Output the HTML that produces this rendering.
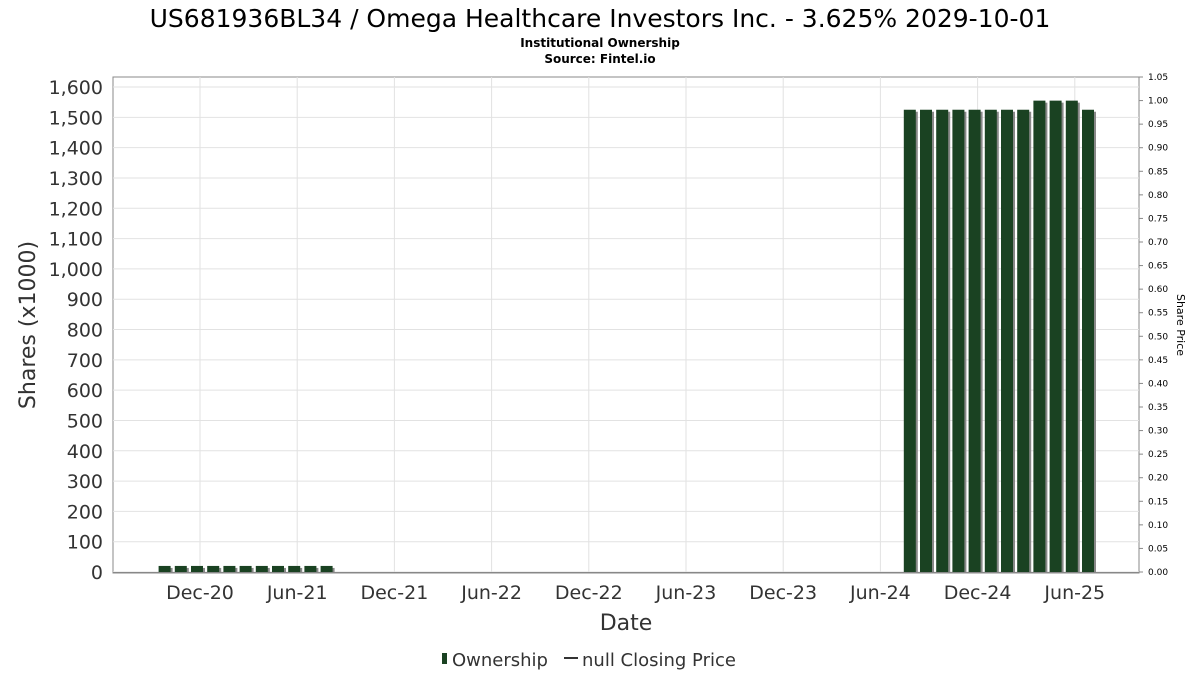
<!DOCTYPE html>
<html><head><meta charset="utf-8"><style>
body{margin:0;background:#fff;font-family:"DejaVu Sans","Liberation Sans",sans-serif}
</style></head><body>
<svg width="1200" height="675" xmlns="http://www.w3.org/2000/svg" id="chart">
<text x="600" y="27" text-anchor="middle" font-size="25" fill="#000">US681936BL34 / Omega Healthcare Investors Inc. - 3.625% 2029-10-01</text>
<text x="600" y="47" text-anchor="middle" font-size="12" font-weight="bold">Institutional Ownership</text>
<text x="600" y="63" text-anchor="middle" font-size="12" font-weight="bold">Source: Fintel.io</text>
<rect x="113" y="77" width="1026" height="496" fill="#fff" stroke="#888"/>
<g id="grid"></g><g id="bars"></g><g id="yticks"></g><g id="xticks"></g>
<text transform="translate(35,325) rotate(-90)" text-anchor="middle" font-size="22" fill="#333">Shares (x1000)</text>
<text transform="translate(1177,325) rotate(90)" text-anchor="middle" font-size="11" fill="#000">Share Price</text>
<text x="626" y="630" text-anchor="middle" font-size="22" fill="#333">Date</text>
<g>
<rect x="442" y="653" width="5" height="11" fill="#1a4222"/>
<text x="452" y="666" font-size="18" fill="#333">Ownership</text>
<line x1="564" y1="658" x2="578" y2="658" stroke="#333" stroke-width="2"/>
<text x="582" y="666" font-size="18" fill="#333">null Closing Price</text>
</g>
</svg>
<script>
const months = ["2020-10","2020-11","2020-12","2021-01","2021-02","2021-03","2021-04","2021-05","2021-06","2021-07","2021-08",
"2024-08","2024-09","2024-10","2024-11","2024-12","2025-01","2025-02","2025-03","2025-04","2025-05","2025-06","2025-07"];
const shares = [20,20,20,20,20,20,20,20,20,20,20,
1525,1525,1525,1525,1525,1525,1525,1525,1555,1555,1555,1525];
const yTicks = [0,100,200,300,400,500,600,700,800,900,1000,1100,1200,1300,1400,1500,1600];
const rTicks = [0,0.05,0.10,0.15,0.20,0.25,0.30,0.35,0.40,0.45,0.50,0.55,0.60,0.65,0.70,0.75,0.80,0.85,0.90,0.95,1.00,1.05];
const xTickLabels = ["Dec-20","Jun-21","Dec-21","Jun-22","Dec-22","Jun-23","Dec-23","Jun-24","Dec-24","Jun-25"];
const xTickMonths = ["2020-12","2021-06","2021-12","2022-06","2022-12","2023-06","2023-12","2024-06","2024-12","2025-06"];
const NS="http://www.w3.org/2000/svg";
function mIdx(s){const [y,m]=s.split("-").map(Number);return (y-2020)*12+(m-12);}
function xs(s){return 200+mIdx(s)*16.2;}
function ys(v){return 572-v*(485/1600);}
function yr(v){return 572-v*(495/1.05);}
function mk(t,a,p){const e=document.createElementNS(NS,t);for(const k in a)e.setAttribute(k,a[k]);p.appendChild(e);return e;}
const grid=document.getElementById("grid"),bars=document.getElementById("bars"),yt=document.getElementById("yticks"),xt=document.getElementById("xticks");
yTicks.forEach(v=>{const y=ys(v);
 const g=mk("line",{x1:113,x2:1139,y1:y,y2:y,stroke:"#e2e2e2"},grid);
 
 
 const t=mk("text",{x:103,y:y+7,"text-anchor":"end","font-size":19,fill:"#333"},yt);t.textContent=v.toLocaleString("en-US");
 
 
});
rTicks.forEach(v=>{const y=yr(v);
 mk("line",{x1:1139,x2:1143,y1:y,y2:y,stroke:"#888"},yt);
 const t=mk("text",{x:1148,y:y+3,"font-size":9,fill:"#000"},yt);t.textContent=v.toFixed(2);
 
 
});
xTickMonths.forEach((m,i)=>{const x=xs(m);
 const g=mk("line",{x1:x,x2:x,y1:77,y2:573,stroke:"#e2e2e2"},grid);
 
 
 const t=mk("text",{x:x,y:599,"text-anchor":"middle","font-size":19,fill:"#333"},xt);t.textContent=xTickLabels[i];
 
 
});
mk("line",{x1:113,x2:1139,y1:572.5,y2:572.5,stroke:"#888"},grid);
months.forEach((m,i)=>{const cx=xs(m)-3,y=ys(shares[i]);
 mk("rect",{x:cx-4,y:y+2,width:12,height:572-y-2,fill:"#888"},bars);
 const b=mk("rect",{x:cx-6,y:y,width:12,height:572-y,fill:"#1a4222"},bars);
 
 
});
</script>
</body></html>
